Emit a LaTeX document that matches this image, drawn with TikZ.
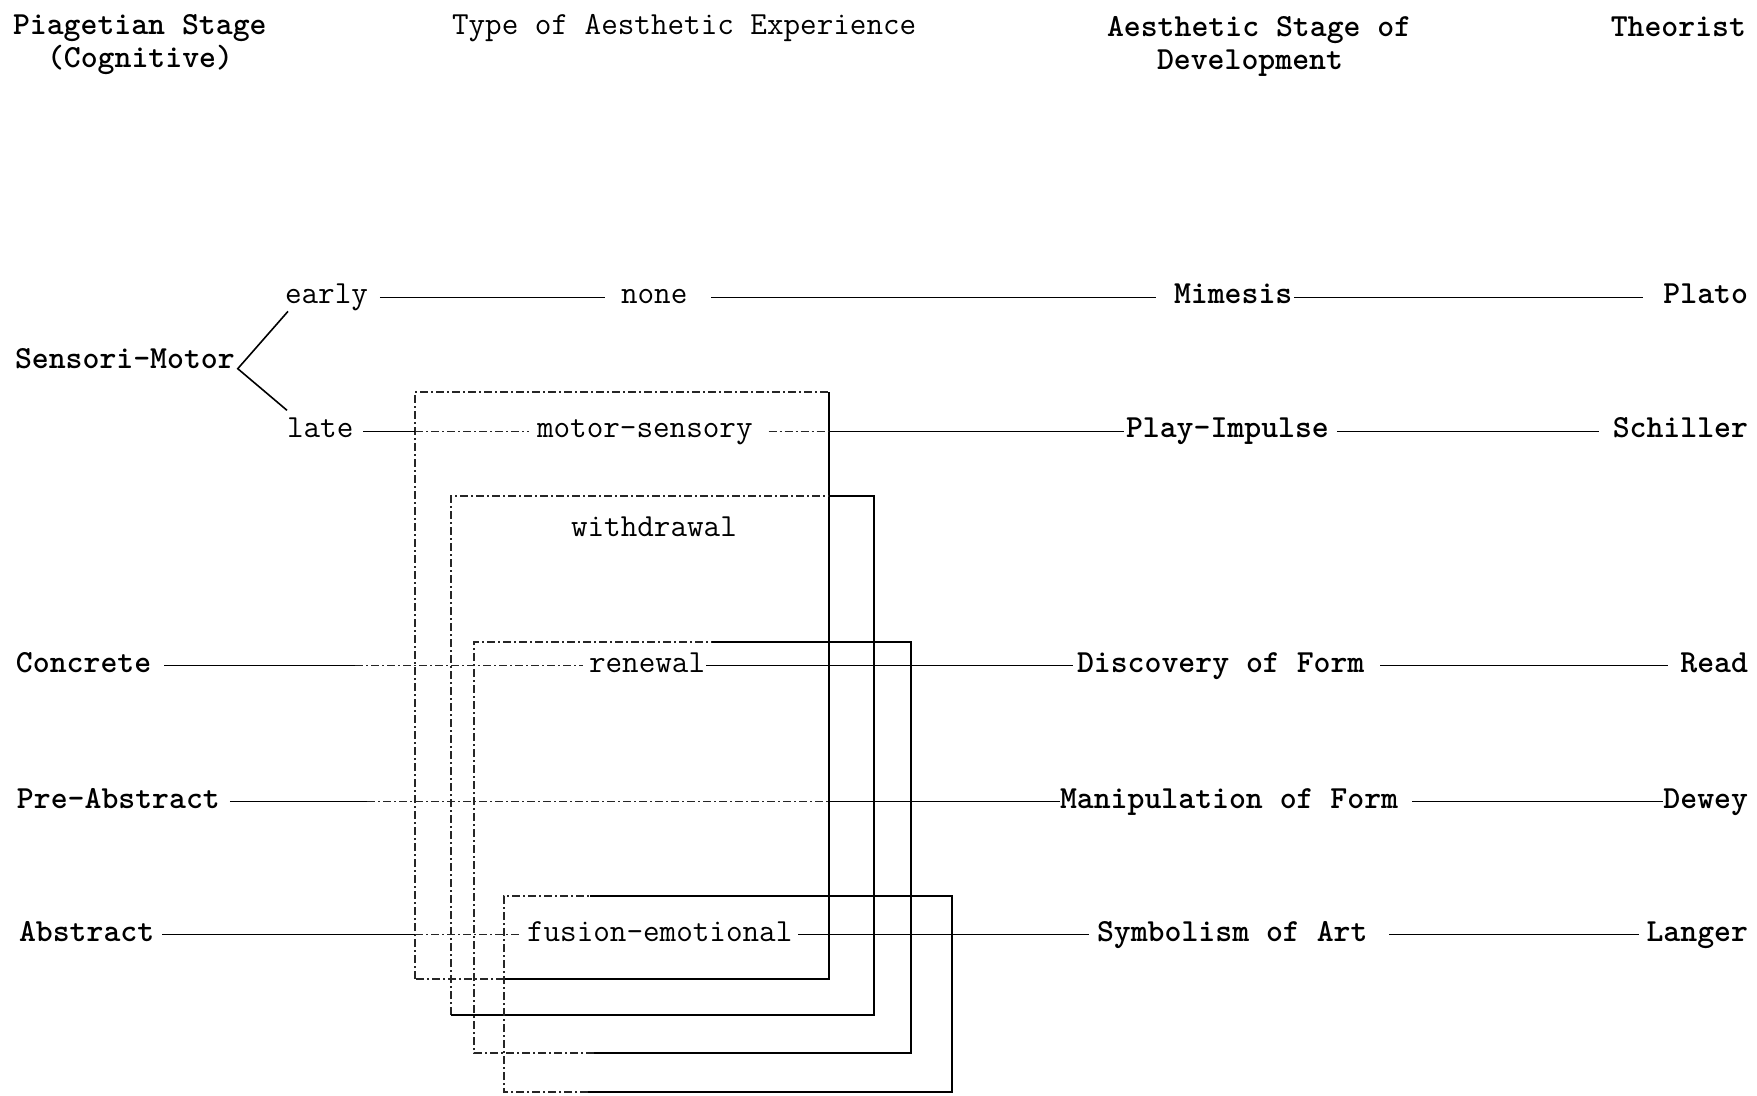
\documentclass[tikz,border=0pt]{standalone}
\usetikzlibrary{calc}
\tikzset{
  txt/.style={inner sep=0pt, outer sep=0pt, font=\fontsize{16.1}{19}\selectfont\ttfamily},
  bd/.style={font=\fontsize{16.1}{19}\selectfont\ttfamily\bfseries},
  lt/.style={txt, anchor=base west},
  rt/.style={txt, anchor=base east},
  rowshift/.style={transform canvas={yshift=1pt}},
  conn/.style={line width=0.8pt, black, rowshift},
  boxfaint/.style={line width=0.55pt, black!85, dash pattern=on 4pt off 1.5pt on 1pt off 1.5pt},
  faint/.style={boxfaint, rowshift},
  boxedge/.style={line width=0.9pt, black, line join=miter},
}
\begin{document}
\begin{tikzpicture}[x=0.5pt, y=-0.5pt]
\fill[white] (0,0) rectangle (1757,1096);
\useasboundingbox (0,0) rectangle (1757,1096);

% headers
\node[lt,bd] (h1) at (13,35) {Piagetian Stage};
\node[txt,bd,anchor=base] (h1b) at (140,68) {(Cognitive)};
\node[lt] (h2) at (452,35) {Type of Aesthetic Experience};
\node[lt,bd] (h3) at (1107,37) {Aesthetic Stage of};
\node[lt,bd] (h3b) at (1157,70) {Development};
\node[rt,bd] (h4) at (1746,37) {Theorist};

% rows
\node[lt] (early) at (285,304) {early};
\node[lt] (none) at (621,304) {none};
\node[lt,bd] (mimesis) at (1174,304) {Mimesis};
\node[rt,bd] (plato) at (1748,304) {Plato};

\node[lt,bd] (sm) at (15,369) {Sensori-Motor};

\node[lt] (late) at (287,438) {late};
\node[lt] (motor) at (537,438) {motor-sensory};
\node[lt,bd] (play) at (1126,438) {Play-Impulse};
\node[rt,bd] (schiller) at (1748,438) {Schiller};

\node[lt] (withdrawal) at (571,537) {withdrawal};

\node[lt,bd] (concrete) at (16,672) {Concrete};
\node[lt] (renewal) at (589,672) {renewal};
\node[lt,bd] (discovery) at (1077,672) {Discovery of Form};
\node[rt,bd] (read) at (1748,672) {Read};

\node[lt,bd] (preabs) at (17,808) {Pre-Abstract};
\node[lt,bd] (manip) at (1060,808) {Manipulation of Form};
\node[rt,bd] (dewey) at (1748,808) {Dewey};

\node[lt,bd] (abstract) at (19,941) {Abstract};
\node[lt] (fusion) at (527,941) {fusion-emotional};
\node[lt,bd] (symbolism) at (1097,941) {Symbolism of Art};
\node[rt,bd] (langer) at (1748,941) {Langer};

% box corners and break points
\coordinate (b1tl) at (415,392);  \coordinate (b1br) at (829,979);
\coordinate (b2tl) at (451,496);  \coordinate (b2br) at (874,1015);
\coordinate (b3tl) at (474,642);  \coordinate (b3br) at (911,1053);
\coordinate (b4tl) at (504,896);  \coordinate (b4br) at (952,1092);
\coordinate (s3top) at (712,0);   \coordinate (s3bot) at (594,0);
\coordinate (s4top) at (590,0);   \coordinate (s4bot) at (588,0);
\coordinate (cbreak) at (355,0);  \coordinate (pbreak) at (367,0);

% boxes
\draw[boxfaint] (b1tl |- b1br) -- (b1tl) -- (b1br |- b1tl);
\draw[boxedge] (b1br |- b1tl) -- (b1br) -- (b4tl |- b1br);
\draw[boxfaint] (b4tl |- b1br) -- (b1tl |- b1br);

\draw[boxfaint] (b2tl |- b2br) -- (b2tl) -- (b1br |- b2tl);
\draw[boxedge] (b1br |- b2tl) -- (b2br |- b2tl) -- (b2br) -- (b2tl |- b2br);

\draw[boxfaint] (s3bot |- b3br) -- (b3tl |- b3br) -- (b3tl) -- (s3top |- b3tl);
\draw[boxedge] (s3top |- b3tl) -- (b3br |- b3tl) -- (b3br) -- (s3bot |- b3br);

\draw[boxfaint] (s4bot |- b4br) -- (b4tl |- b4br) -- (b4tl) -- (s4top |- b4tl);
\draw[boxedge] (s4top |- b4tl) -- (b4br |- b4tl) -- (b4br) -- (s4bot |- b4br);

% row 1
\draw[conn, shorten <=6pt, shorten >=8pt] (early.mid east) -- (none.mid west);
\draw[conn, shorten <=12pt, shorten >=9pt] (none.mid east) -- (mimesis.mid west);
\draw[conn, shorten <=1pt, shorten >=10pt] (mimesis.mid east) -- (plato.mid west);

% bracket
\coordinate (smv) at ([xshift=1.5pt,yshift=-2pt]sm.mid east);
\draw[line width=0.8pt] ([xshift=1.5pt]early.south west) -- (smv) -- ([yshift=4pt]late.north west);

% row 2
\draw[conn, shorten <=5pt] (late.mid east) -- (b1tl |- late.mid east);
\draw[faint, shorten >=4pt] (b1tl |- late.mid east) -- (motor.mid west);
\draw[faint, shorten <=8pt] (motor.mid east) -- (b1br |- motor.mid east);
\draw[conn, shorten >=1pt] (b1br |- motor.mid east) -- (play.mid west);
\draw[conn, shorten <=4pt, shorten >=7pt] (play.mid east) -- (schiller.mid west);

% Concrete row
\draw[conn, shorten <=6.5pt] (concrete.mid east) -- (cbreak |- concrete.mid east);
\draw[faint, shorten >=3pt] (cbreak |- concrete.mid east) -- (renewal.mid west);
\draw[conn, shorten <=0.5pt, shorten >=2pt] (renewal.mid east) -- (discovery.mid west);
\draw[conn, shorten <=8pt, shorten >=6pt] (discovery.mid east) -- (read.mid west);

% Pre-Abstract row
\draw[conn, shorten <=5pt] (preabs.mid east) -- (pbreak |- preabs.mid east);
\draw[faint] (pbreak |- preabs.mid east) -- (b1br |- preabs.mid east);
\draw[conn] (b1br |- preabs.mid east) -- (manip.mid west);
\draw[conn, shorten <=7pt] (manip.mid east) -- (dewey.mid west);

% Abstract row
\draw[conn, shorten <=4pt] (abstract.mid east) -- (b1tl |- abstract.mid east);
\draw[faint, shorten >=4pt] (b1tl |- abstract.mid east) -- (fusion.mid west);
\draw[conn, shorten <=3pt, shorten >=4pt] (fusion.mid east) -- (symbolism.mid west);
\draw[conn, shorten <=11pt, shorten >=4pt] (symbolism.mid east) -- (langer.mid west);
\end{tikzpicture}
\end{document}
